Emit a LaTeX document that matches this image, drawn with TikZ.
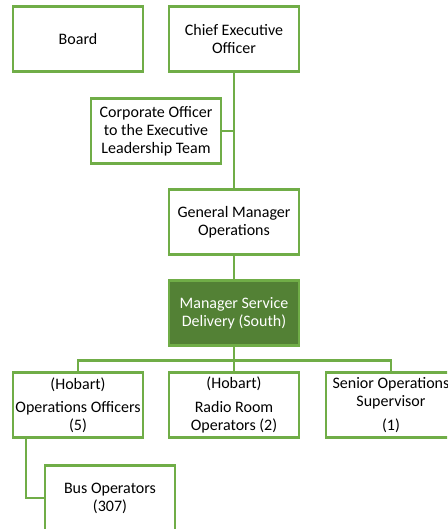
\documentclass[tikz,border=0pt]{standalone}
\usepackage{fontspec}
\setmainfont{Carlito}
\usepackage{xcolor}
\usepackage{tikz}
\usetikzlibrary{positioning, calc}

\definecolor{ogreen}{HTML}{70AD47}
\definecolor{dgreen}{HTML}{538135}

\begin{document}
\begin{tikzpicture}[
    role/.style={
        rectangle,
        draw=ogreen,
        line width=2.2pt,
        fill=white,
        minimum width=97.5pt,
        minimum height=48.75pt,
        inner sep=1pt,
        outer sep=0pt,
        align=center,
        font=\fontsize{12}{13.5}\selectfont
    },
    lead/.style={role, fill=dgreen, text=white},
    link/.style={draw=ogreen, line width=2.2pt},
    node distance=19.5pt and 19.5pt
]

\path[use as bounding box, clip] (0,0) rectangle (335.25pt,-396.75pt);

\node[role] (ceo) at (175.5pt,-29.25pt) {Chief Executive\\Officer};
\node[role, left=of ceo] (board) {Board};

\node[role, below=20.25pt of ceo, xshift=-58.5pt] (corp) {
    Corporate Officer\\
    to the Executive\\
    Leadership Team
};

\node[role, below=of corp, xshift=58.5pt] (gm) {General Manager\\Operations};

\node[lead, below=of gm] (msd) {Manager Service\\Delivery (South)};

\node[role, below=20.25pt of msd] (radio) {(Hobart)\\[4pt]Radio Room\\Operators (2)};
\node[role, left=of radio] (ops) {(Hobart)\\[4pt]Operations Officers\\(5)};
\node[role, right=20.25pt of radio] (senior) {Senior Operations\\Supervisor\\[4.5pt](1)};

\node[role, below=21pt of ops, xshift=24pt] (bus) {Bus Operators\\(307)};

% connectors
\draw[link] (ceo.south) -- (gm.north);
\draw[link] (corp.east) -- (corp.east -| ceo.south);
\draw[link] (gm) -- (msd);
\coordinate (split) at ($(msd.south)!0.55!(radio.north)$);
\draw[link] (msd) -- (radio);
\draw[link] (ops.north) |- (split) -| (senior.north);
\draw[link] ([xshift=9.75pt]ops.south west) |- (bus.west);

\end{tikzpicture}
\end{document}
